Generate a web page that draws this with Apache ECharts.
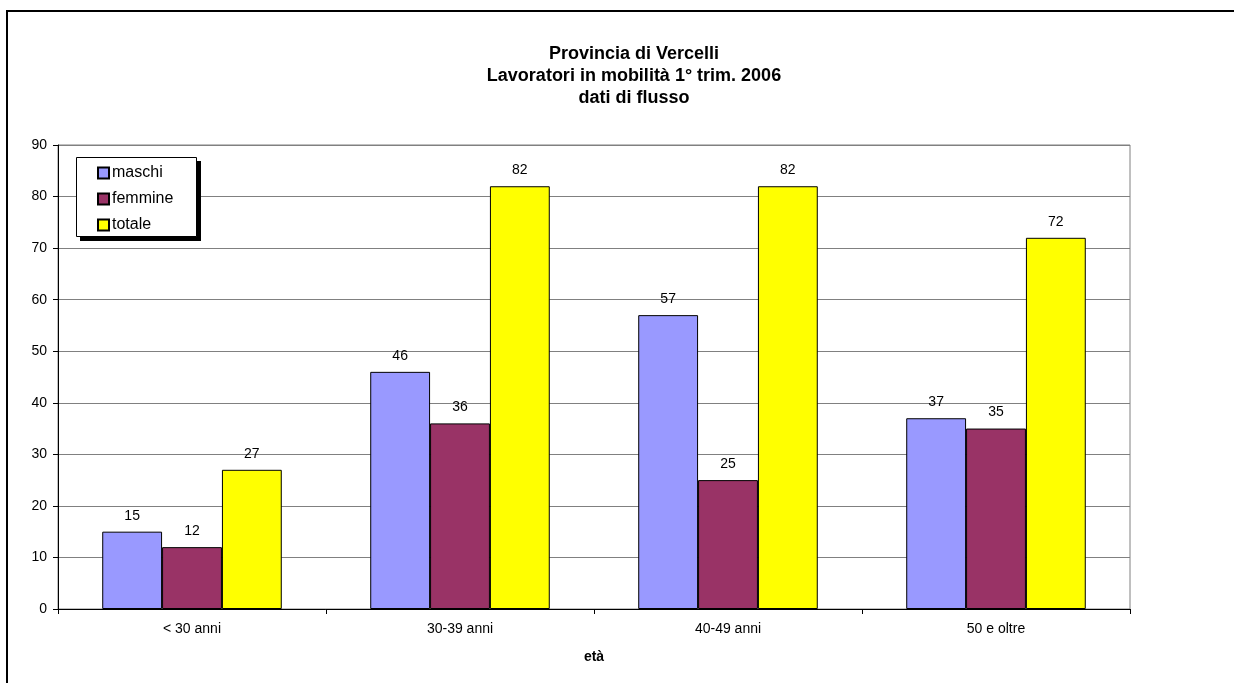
<!DOCTYPE html>
<html>
<head>
<meta charset="utf-8">
<script src="https://cdn.jsdelivr.net/npm/echarts@6/dist/echarts.min.js"></script>
<style>
html,body{margin:0;padding:0;background:#fff;}
#chart{width:1234px;height:683px;}
</style>
</head>
<body>
<div id="chart"></div>
<script>
var categories = ['< 30 anni', '30-39 anni', '40-49 anni', '50 e oltre'];
var maschi = [15, 46, 57, 37];
var femmine = [12, 36, 25, 35];
var totale = [27, 82, 82, 72];
var seriesNames = ['maschi', 'femmine', 'totale'];
var titleLines = ['Provincia di Vercelli', 'Lavoratori in mobilità 1° trim. 2006', 'dati di flusso'];
var xAxisName = 'età';

var FONT = '"Liberation Sans", Arial, sans-serif';
var chart = echarts.init(document.getElementById('chart'), null, {renderer: 'canvas'});

function bar(name, data, color) {
  return {
    name: name,
    type: 'bar',
    data: data,
    barGap: '0%',
    barCategoryGap: '33%',
    itemStyle: {color: color, borderColor: '#000', borderWidth: 1},
    label: {show: true, position: 'top', distance: 9, color: '#000', fontSize: 14, fontFamily: FONT},
    emphasis: {disabled: true}
  };
}

chart.setOption({
  animation: false,
  backgroundColor: '#fff',
  textStyle: {fontFamily: FONT},
  graphic: [{
    type: 'rect',
    z: -10,
    silent: true,
    shape: {x: 7, y: 11, width: 1400, height: 900},
    style: {fill: 'none', stroke: '#000', lineWidth: 2}
  }, {
    type: 'rect',
    z: 3,
    silent: true,
    shape: {x: 80, y: 161, width: 121, height: 80},
    style: {fill: '#000', stroke: null}
  }, {
    type: 'rect',
    z: 3.5,
    silent: true,
    shape: {x: 76.5, y: 157.5, width: 120, height: 79},
    style: {fill: '#fff', stroke: '#000', lineWidth: 1}
  }],
  title: {
    text: titleLines.join('\n'),
    left: 629,
    top: 38,
    textAlign: 'center',
    textStyle: {fontSize: 18, fontWeight: 'bold', color: '#000', lineHeight: 22, fontFamily: FONT}
  },
  legend: {
    orient: 'vertical',
    left: 76,
    top: 157,
    z: 5,
    padding: [8, 20, 6, 21],
    itemWidth: 11,
    itemHeight: 11,
    itemGap: 10,
    backgroundColor: 'transparent',
    borderWidth: 0,
    textStyle: {fontSize: 16, color: '#000', fontFamily: FONT, padding: [0, 0, 0, -2]},
    data: seriesNames.map(function (n) { return {name: n, icon: 'rect'}; })
  },
  grid: {
    left: 58, right: 104, top: 145, bottom: 74,
    show: true, borderColor: '#808080', borderWidth: 1, backgroundColor: 'transparent'
  },
  xAxis: {
    type: 'category',
    data: categories,
    name: xAxisName,
    nameLocation: 'middle',
    nameGap: 41,
    nameTextStyle: {fontSize: 14, fontWeight: 'bold', color: '#000', fontFamily: FONT},
    axisLine: {lineStyle: {color: '#000', width: 1}},
    axisTick: {show: true, length: 5, lineStyle: {color: '#000'}},
    axisLabel: {fontSize: 14, color: '#000', margin: 13, fontFamily: FONT},
    splitLine: {show: false}
  },
  yAxis: {
    type: 'value',
    min: 0,
    max: 90,
    interval: 10,
    axisLine: {show: true, lineStyle: {color: '#000', width: 1}},
    axisTick: {show: true, length: 5, lineStyle: {color: '#000'}},
    axisLabel: {fontSize: 14, color: '#000', margin: 11, fontFamily: FONT},
    splitLine: {show: true, lineStyle: {color: '#808080', width: 1}}
  },
  series: [
    bar(seriesNames[0], maschi, '#9999FF'),
    bar(seriesNames[1], femmine, '#993366'),
    bar(seriesNames[2], totale, '#FFFF00')
  ]
});
</script>
</body>
</html>
